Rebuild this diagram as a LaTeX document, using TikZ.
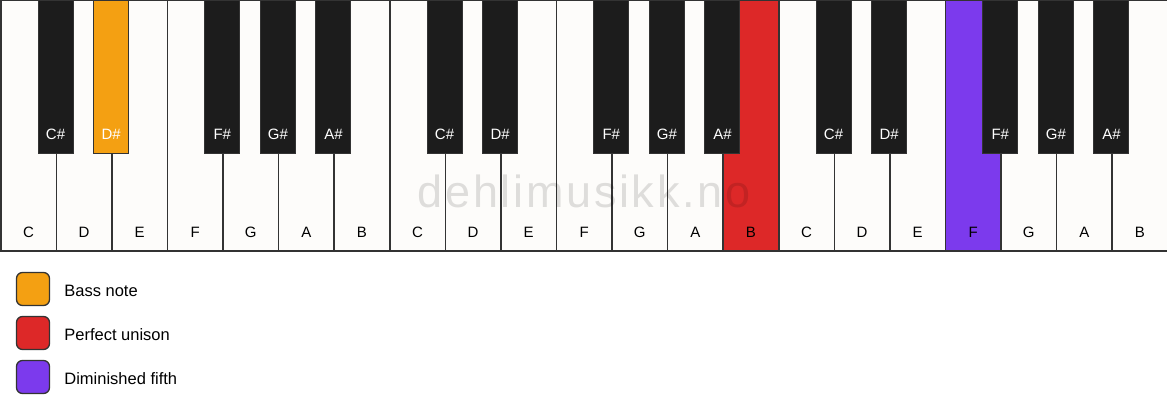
\documentclass[tikz,border=0pt]{standalone}
\usepackage{fontspec}
\setmainfont{Liberation Sans}
\newfontfamily\markfont[LetterSpace=6]{Liberation Sans}
\usetikzlibrary{positioning}
\definecolor{keywhite}{HTML}{FDFCFA}
\definecolor{keyblack}{HTML}{1C1C1C}
\definecolor{keyline}{HTML}{333333}
\definecolor{bass}{HTML}{F4A012}
\definecolor{unison}{HTML}{DD2828}
\definecolor{dimfifth}{HTML}{7C3AED}
\tikzset{
	whitekey/.style   = {draw=keyline, line width=1.5pt, rectangle, inner sep=0pt,
		minimum width=55.571pt, minimum height=250pt, anchor=north west},
	blackkey/.style   = {draw=keyline, line width=1pt, rectangle, inner sep=0pt,
		minimum width=35pt, minimum height=153pt, anchor=north},
	keylabel/.style   = {font=\fontsize{15}{18}\selectfont, inner sep=0pt,
		text height=11pt, text depth=0pt}, % note names
	legendbox/.style  = {draw=keyline, line width=1.3pt, rounded corners=6pt,
		minimum size=33pt, inner sep=0pt},
	legendtext/.style = {font=\fontsize{16.5}{20}\selectfont, inner sep=0pt,
		text height=12pt, text depth=0pt}
}

\begin{document}
\begin{tikzpicture}[x=1pt, y=1pt]
	\useasboundingbox (0,-417) rectangle (1167,0);
	% white keys
	\foreach \n/\c [count=\i from 0] in {C/keywhite, D/keywhite, E/keywhite, F/keywhite,
		G/keywhite, A/keywhite, B/keywhite, C/keywhite, D/keywhite, E/keywhite,
		F/keywhite, G/keywhite, A/keywhite, B/unison, C/keywhite, D/keywhite,
		E/keywhite, F/dimfifth, G/keywhite, A/keywhite, B/keywhite} {
		\node[whitekey, fill=\c] (w\i) at (\i*55.571, 0) {};
		\node[keylabel] (lw\i) at ([yshift=20pt]w\i.south) {\n};
	}
	% black keys, centred on the borders of the white keys
	\foreach \k/\n/\c/\t in {1/C\#/keyblack/white, 2/D\#/bass/white, 4/F\#/keyblack/white,
		5/G\#/keyblack/white, 6/A\#/keyblack/white, 8/C\#/keyblack/white,
		9/D\#/keyblack/white, 11/F\#/keyblack/white, 12/G\#/keyblack/white,
		13/A\#/keyblack/white, 15/C\#/keyblack/white, 16/D\#/keyblack/white,
		18/F\#/keyblack/white, 19/G\#/keyblack/white, 20/A\#/keyblack/white} {
		\node[blackkey, fill=\c] (b\k) at (\k*55.571, 0) {};
		\node[keylabel, text=\t] (lb\k) at ([yshift=20pt]b\k.south) {\n};
	}
	% watermark
	\node[anchor=base, inner sep=0pt, text=black, text opacity=0.12,
		font=\markfont\fontsize{45}{54}\selectfont] (mark) at (584,-207) {dehlimusikk.no};

	% legend
	\draw
	node at (33,-289) [legendbox, fill=bass] (lg1) {}
	node at (33,-333) [legendbox, fill=unison] (lg2) {}
	node at (33,-377) [legendbox, fill=dimfifth] (lg3) {};
	\node[legendtext, right=14pt of lg1, yshift=-1.5pt] (t1) {Bass note};
	\node[legendtext, right=14pt of lg2, yshift=-1.5pt] (t2) {Perfect unison};
	\node[legendtext, right=14pt of lg3, yshift=-1.5pt] (t3) {Diminished fifth};
\end{tikzpicture}
\end{document}
